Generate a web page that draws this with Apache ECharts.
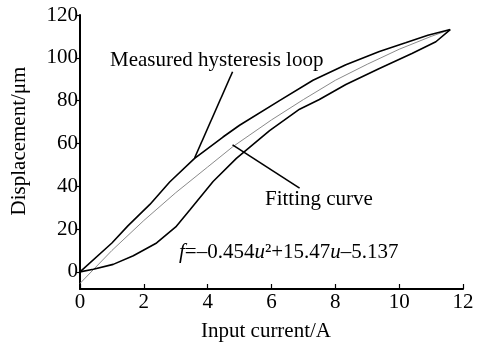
<!DOCTYPE html>
<html>
<head>
<meta charset="utf-8">
<script src="https://cdn.jsdelivr.net/npm/echarts@6/dist/echarts.min.js"></script>
<style>
  html, body { margin: 0; padding: 0; background: #fff; }
  #chart { width: 488px; height: 347px; }
</style>
</head>
<body>
<div id="chart"></div>
<script>
// measured loop, upper branch
const upperX = [0, 1, 1.5, 2.19, 2.81, 3.59, 4.48, 5, 6.25, 7.3, 8.33, 9.38, 10.2, 10.9, 11.6];
const upperY = [0, 13.5, 21.5, 31.5, 42, 53, 63, 68.5, 80, 89.5, 96.8, 103, 107, 110.5, 113.2];
// measured loop, lower branch
const lowerX = [0, 0.42, 1.04, 1.67, 2.4, 3, 3.44, 4.17, 4.9, 5.94, 6.88, 7.5, 8.33, 9.38, 10.4, 11.15, 11.6];
const lowerY = [0, 1.2, 3.5, 7.5, 13.5, 21, 28.9, 42.2, 53, 66, 76, 80.5, 87.5, 95, 102, 107.5, 113.2];
// fitting curve
const fitX = [0, 1, 2, 3, 4, 4.79, 6, 7, 8, 9, 10, 11, 11.6];
const fitY = [-5.4, 10, 24, 37, 49, 58.5, 71, 80.5, 89.5, 97, 104, 110, 113.2];
// y tick labels
const yTicks = [0, 20, 40, 60, 80, 100, 120];
// leader lines (data coords)
const measuredLeader = [[4.78, 93.5], [3.59, 53.2]];
const fittingLeader = [[4.78, 59.3], [6.88, 39.1]];

const font = "'Liberation Serif', 'Times New Roman', serif";
const fs = 21;
const zip = (xs, ys) => xs.map((x, i) => [x, ys[i]]);

const chart = echarts.init(document.getElementById('chart'));
const lineBase = {
  type: 'line',
  showSymbol: false,
  silent: true,
  animation: false
};

chart.setOption({
  backgroundColor: '#fff',
  animation: false,
  grid: { left: 80, right: 25, top: 15, bottom: 58 },
  xAxis: {
    type: 'value',
    min: 0,
    max: 12,
    interval: 2,
    splitLine: { show: false },
    axisLine: { onZero: false, lineStyle: { color: '#000', width: 2 } },
    axisTick: { inside: true, length: 5, lineStyle: { color: '#000', width: 1.2 } },
    axisLabel: { color: '#000', fontFamily: font, fontSize: fs, margin: 3 }
  },
  yAxis: {
    type: 'value',
    min: -8,
    max: 120,
    splitLine: { show: false },
    axisLine: { show: true, onZero: false, lineStyle: { color: '#000', width: 2 } },
    axisTick: { show: true, length: 4, customValues: yTicks, lineStyle: { color: '#000', width: 1.2 } },
    axisLabel: { color: '#000', fontFamily: font, fontSize: fs, margin: 2, customValues: yTicks }
  },
  series: [
    Object.assign({}, lineBase, {
      name: 'fit',
      data: zip(fitX, fitY),
      lineStyle: { color: '#8a8a8a', width: 1 }
    }),
    Object.assign({}, lineBase, {
      name: 'upper',
      data: zip(upperX, upperY),
      lineStyle: { color: '#000', width: 1.6 }
    }),
    Object.assign({}, lineBase, {
      name: 'lower',
      data: zip(lowerX, lowerY),
      lineStyle: { color: '#000', width: 1.6 }
    }),
    Object.assign({}, lineBase, {
      name: 'leader1',
      data: measuredLeader,
      lineStyle: { color: '#000', width: 1.6 }
    }),
    Object.assign({}, lineBase, {
      name: 'leader2',
      data: fittingLeader,
      lineStyle: { color: '#000', width: 1.6 }
    })
  ],
  graphic: [
    {
      type: 'text', x: 110, y: 60,
      style: { text: 'Measured hysteresis loop', fill: '#000', font: fs + 'px ' + font, verticalAlign: 'middle' }
    },
    {
      type: 'text', x: 265, y: 199,
      style: { text: 'Fitting curve', fill: '#000', font: fs + 'px ' + font, verticalAlign: 'middle' }
    },
    {
      type: 'text', x: 179, y: 252,
      style: {
        text: '{i|f}=–0.454{i|u}²+15.47{i|u}–5.137',
        fill: '#000',
        font: fs + 'px ' + font,
        verticalAlign: 'middle',
        rich: {
          i: { fontStyle: 'italic', fontFamily: font, fontSize: fs, fill: '#000' }
        }
      }
    },
    {
      type: 'text', x: 266, y: 331,
      style: { text: 'Input current/A', fill: '#000', font: fs + 'px ' + font, align: 'center', verticalAlign: 'middle' }
    },
    {
      type: 'text', x: 19, y: 141, rotation: Math.PI / 2,
      style: { text: 'Displacement/μm', fill: '#000', font: fs + 'px ' + font, align: 'center', verticalAlign: 'middle' }
    }
  ]
});
</script>
</body>
</html>
